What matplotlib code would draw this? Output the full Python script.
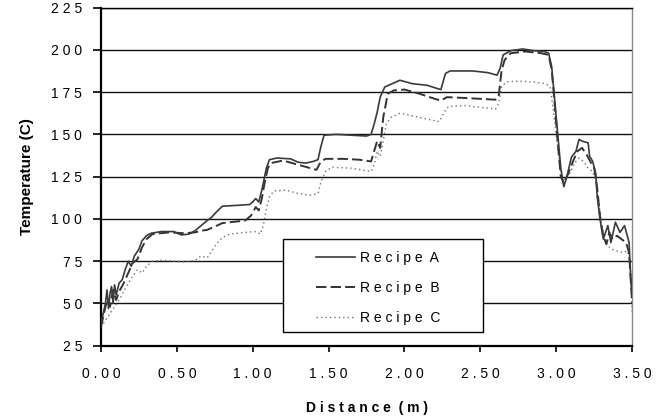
import matplotlib
matplotlib.use("Agg")
import matplotlib.pyplot as plt
from matplotlib.patches import Rectangle

plt.rcParams['font.family'] = ['Liberation Sans', 'DejaVu Sans']
plt.rcParams['lines.scale_dashes'] = False

# temperature profiles along the oven
dist_a = [0.00, 0.01, 0.03, 0.04, 0.05, 0.06, 0.07, 0.08, 0.09, 0.10, 0.12, 0.14, 0.16, 0.18,
          0.20, 0.22, 0.25, 0.27, 0.30, 0.33, 0.40, 0.48, 0.53, 0.58, 0.62, 0.66, 0.70, 0.73,
          0.76, 0.80, 0.90, 0.98, 1.00, 1.02, 1.04, 1.06, 1.09, 1.11, 1.16, 1.25, 1.30, 1.35,
          1.40, 1.43, 1.45, 1.47, 1.55, 1.65, 1.75, 1.78, 1.80, 1.82, 1.84, 1.87, 1.92, 1.97,
          2.05, 2.15, 2.22, 2.24, 2.27, 2.30, 2.45, 2.55, 2.61, 2.63, 2.65, 2.70, 2.78, 2.85,
          2.92, 2.95, 2.97, 2.99, 3.01, 3.03, 3.05, 3.07, 3.10, 3.13, 3.15, 3.17, 3.21, 3.22,
          3.24, 3.26, 3.27, 3.29, 3.31, 3.34, 3.36, 3.39, 3.42, 3.45, 3.48, 3.49, 3.50]
temp_a = [38, 42, 50, 58, 47, 56, 60, 50, 61, 55, 62, 64, 70, 75,
          72, 78, 82, 87, 90, 91.5, 92.5, 92.5, 90.5, 91, 93, 96, 99, 101,
          104, 107.5, 108, 108.5, 110, 112, 110, 117, 130, 135, 136, 135.5, 133.5, 133,
          134, 135, 143, 149.5, 150, 149.5, 149, 150, 156, 163, 172, 178, 180, 182,
          180, 179, 177, 176.5, 186, 187.5, 187.5, 186.5, 185, 189, 197, 199.5, 200.5, 199.5,
          199, 198, 190, 170, 150, 130, 119, 125, 136.5, 140, 147, 146, 145, 137,
          134, 127, 113, 99, 88, 96, 86, 98, 92, 96, 86, 66, 54]

dist_b = [0.00, 0.02, 0.04, 0.06, 0.08, 0.10, 0.12, 0.15, 0.18, 0.21, 0.24, 0.27, 0.30, 0.34,
          0.45, 0.55, 0.62, 0.66, 0.70, 0.74, 0.80, 0.90, 0.95, 0.99, 1.02, 1.04, 1.06, 1.08,
          1.10, 1.12, 1.20, 1.30, 1.38, 1.42, 1.45, 1.48, 1.60, 1.70, 1.78, 1.80, 1.82, 1.84,
          1.86, 1.89, 1.93, 2.00, 2.10, 2.20, 2.24, 2.28, 2.40, 2.50, 2.60, 2.62, 2.64, 2.66,
          2.70, 2.80, 2.90, 2.95, 2.97, 2.99, 3.01, 3.03, 3.05, 3.08, 3.11, 3.14, 3.17, 3.20,
          3.23, 3.25, 3.27, 3.29, 3.31, 3.33, 3.35, 3.37, 3.40, 3.43, 3.46, 3.48, 3.50]
temp_b = [36, 44, 52, 48, 58, 52, 57, 62, 68, 74, 76, 83, 88, 91,
          92, 91.5, 92, 93, 93.5, 95, 97.5, 98.5, 99, 102, 107, 105, 112, 122,
          130, 133, 134.5, 132, 130, 129, 134, 135.5, 135.5, 135, 134, 140, 146, 142,
          160, 174, 176, 176.5, 174, 171, 170, 172, 171.5, 171, 170.5, 172, 188, 194,
          198, 199, 198, 197, 188, 168, 145, 125, 121, 127, 134, 140, 142, 138,
          133, 130, 118, 100, 90, 85, 92, 88, 90, 88, 86, 80, 50]

dist_c = [0.00, 0.03, 0.06, 0.09, 0.12, 0.15, 0.18, 0.21, 0.24, 0.27, 0.30, 0.34, 0.40, 0.48,
          0.55, 0.62, 0.66, 0.70, 0.73, 0.76, 0.80, 0.85, 0.95, 1.02, 1.05, 1.07, 1.09, 1.11,
          1.14, 1.22, 1.30, 1.38, 1.43, 1.45, 1.48, 1.52, 1.65, 1.78, 1.80, 1.82, 1.84, 1.86,
          1.88, 1.91, 1.97, 2.05, 2.15, 2.23, 2.26, 2.29, 2.40, 2.50, 2.60, 2.62, 2.64, 2.67,
          2.75, 2.85, 2.93, 2.96, 2.98, 3.00, 3.02, 3.04, 3.06, 3.09, 3.12, 3.15, 3.18, 3.21,
          3.24, 3.26, 3.28, 3.30, 3.32, 3.34, 3.37, 3.40, 3.44, 3.47, 3.49, 3.50]
temp_c = [36, 40, 44, 48, 52, 57, 62, 66, 70, 68, 72, 75, 75.5, 75,
          74.5, 75.5, 78, 77, 81, 85, 89, 91, 92, 92.5, 91, 96, 106, 113,
          116.5, 117, 115, 114, 115, 122, 128, 130.5, 130, 128, 132, 140, 137, 146,
          156, 160, 162.5, 161, 159, 157.5, 163, 166.5, 167, 166, 165, 168, 178, 181,
          181.5, 181, 180, 178, 165, 150, 135, 125, 123, 127, 133, 136, 134, 130,
          128, 122, 110, 96, 88, 84, 82, 81, 80, 81, 70, 45]

series_names = ['Recipe A', 'Recipe B', 'Recipe C']
x_ticks = [0.0, 0.5, 1.0, 1.5, 2.0, 2.5, 3.0, 3.5]
x_tick_labels = ['0.00', '0.50', '1.00', '1.50', '2.00', '2.50', '3.00', '3.50']
y_ticks = [25, 50, 75, 100, 125, 150, 175, 200, 225]


def spaced(s):
    # wide letter spacing, as in the old spreadsheet export
    return '  '.join(' '.join(word) for word in s.split(' '))


fig = plt.figure(figsize=(6.64, 4.2), dpi=100)
ax = fig.add_axes([0.152, 0.177, 0.8, 0.805])

ax.plot(dist_c, temp_c, color='#707070', lw=1.0, linestyle=(0, (1.0, 2.2)), label=spaced(series_names[2]), zorder=3)
ax.plot(dist_b, temp_b, color='#333333', lw=1.4, linestyle=(0, (7.5, 3.0)), label=spaced(series_names[1]), zorder=3)
ax.plot(dist_a, temp_a, color='#3a3a3a', lw=1.2, label=spaced(series_names[0]), zorder=3)

ax.set_xlim(0, 3.5)
ax.set_ylim(25, 225)
ax.set_xticks(x_ticks)
ax.set_xticklabels([spaced(t) for t in x_tick_labels], fontsize=10)
ax.set_yticks(y_ticks)
ax.set_yticklabels([spaced(str(t)) for t in y_ticks], fontsize=10)
ax.tick_params(axis='y', length=5.5, width=1.2, pad=8)
ax.tick_params(axis='x', length=4.5, width=1.2, pad=11)

ax.yaxis.grid(True, color='#111111', lw=1.0)
ax.set_axisbelow(True)
for side in ['left', 'bottom']:
    ax.spines[side].set_linewidth(1.6)
    ax.spines[side].set_color('black')
ax.spines['top'].set_linewidth(1.0)
ax.spines['right'].set_linewidth(1.0)
ax.spines['right'].set_color('#888888')

ax.set_xlabel(spaced('Distance (m)'), fontsize=10, fontweight='bold', labelpad=14)
ax.set_ylabel('Temperature (C)', fontsize=11, fontweight='bold', labelpad=12)

# legend box drawn separately so the entries can sit inside a wider frame
ax.add_patch(Rectangle((0.343, 0.041), 0.376, 0.275, transform=ax.transAxes,
                       facecolor='white', edgecolor='black', lw=1.0, zorder=4))
handles, labels = ax.get_legend_handles_labels()
leg = ax.legend(handles[::-1], labels[::-1], loc='upper left', bbox_to_anchor=(0.405, 0.279),
                frameon=False, borderpad=0, borderaxespad=0, handlelength=2.8,
                handletextpad=0.35, labelspacing=1.15, fontsize=10)
leg.set_zorder(5)

fig.savefig('out.png', dpi=100)
